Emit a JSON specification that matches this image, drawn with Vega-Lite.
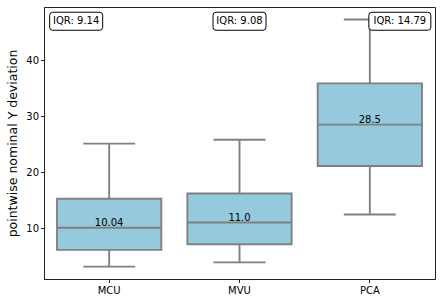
{
  "$schema": "https://vega.github.io/schema/vega-lite/v6.json",
  "width": 391,
  "height": 272,
  "autosize": {"type": "none"},
  "padding": {"left": 44, "top": 7, "right": 6, "bottom": 24},
  "config": {
    "font": "DejaVu Sans",
    "view": {"stroke": "#222222", "strokeWidth": 1},
    "axis": {
      "domainColor": "#222222",
      "tickColor": "#222222",
      "tickSize": 3.5,
      "labelFontSize": 10,
      "labelColor": "#000000",
      "labelFont": "DejaVu Sans",
      "titleFont": "DejaVu Sans",
      "titleColor": "#000000",
      "grid": false
    }
  },
  "data": {
    "values": [
      {"method": "MCU", "lower": 3.1, "q1": 6.1, "median": 10.04, "q3": 15.24, "upper": 25.1, "median_label": "10.04", "iqr_label": "IQR: 9.14"},
      {"method": "MVU", "lower": 3.85, "q1": 7.1, "median": 11.0, "q3": 16.18, "upper": 25.8, "median_label": "11.0", "iqr_label": "IQR: 9.08"},
      {"method": "PCA", "lower": 12.43, "q1": 21.1, "median": 28.5, "q3": 35.89, "upper": 47.3, "median_label": "28.5", "iqr_label": "IQR: 14.79"}
    ]
  },
  "encoding": {
    "x": {
      "field": "method",
      "type": "nominal",
      "sort": ["MCU", "MVU", "PCA"],
      "scale": {"paddingInner": 0, "paddingOuter": 0},
      "axis": {"title": null, "labelAngle": 0, "labelPadding": 3}
    }
  },
  "layer": [
    {
      "mark": {"type": "rule", "color": "#808080", "strokeWidth": 1.9},
      "encoding": {
        "y": {
          "field": "lower",
          "type": "quantitative",
          "scale": {"domain": [0.88, 49.55], "nice": false, "zero": false},
          "axis": {"values": [10, 20, 30, 40], "title": "pointwise nominal Y deviation", "titleFontSize": 12.5, "titleFontWeight": "normal", "labelPadding": 2, "titlePadding": 6}
        },
        "y2": {"field": "q1"}
      }
    },
    {
      "mark": {"type": "rule", "color": "#808080", "strokeWidth": 1.9},
      "encoding": {
        "y": {"field": "q3", "type": "quantitative"},
        "y2": {"field": "upper"}
      }
    },
    {
      "mark": {"type": "tick", "color": "#808080", "thickness": 1.9, "size": 52, "opacity": 1},
      "encoding": {"y": {"field": "lower", "type": "quantitative"}}
    },
    {
      "mark": {"type": "tick", "color": "#808080", "thickness": 1.9, "size": 52, "opacity": 1},
      "encoding": {"y": {"field": "upper", "type": "quantitative"}}
    },
    {
      "mark": {"type": "bar", "fill": "#95c9dd", "stroke": "#808080", "strokeWidth": 1.9, "width": {"band": 0.8}},
      "encoding": {
        "y": {"field": "q1", "type": "quantitative"},
        "y2": {"field": "q3"}
      }
    },
    {
      "mark": {"type": "tick", "color": "#808080", "thickness": 1.9, "size": 104, "opacity": 1},
      "encoding": {"y": {"field": "median", "type": "quantitative"}}
    },
    {
      "mark": {"type": "text", "fontSize": 10, "color": "#000000", "baseline": "middle", "dy": -4.5},
      "encoding": {
        "y": {"field": "median", "type": "quantitative"},
        "text": {"field": "median_label"}
      }
    },
    {
      "transform": [{"filter": "datum.method === 'MCU'"}],
      "mark": {"type": "point", "shape": "M-0.887,-0.34L0.887,-0.34Q1,-0.34 1,-0.227L1,0.227Q1,0.34 0.887,0.34L-0.887,0.34Q-1,0.34 -1,0.227L-1,-0.227Q-1,-0.34 -0.887,-0.34Z", "size": 2809, "filled": true, "fill": "#ffffff", "stroke": "#000000", "strokeWidth": 1, "opacity": 1, "xOffset": -33},
      "encoding": {"y": {"datum": 47.0, "type": "quantitative"}}
    },
    {
      "transform": [{"filter": "datum.method === 'MVU'"}],
      "mark": {"type": "point", "shape": "M-0.887,-0.34L0.887,-0.34Q1,-0.34 1,-0.227L1,0.227Q1,0.34 0.887,0.34L-0.887,0.34Q-1,0.34 -1,0.227L-1,-0.227Q-1,-0.34 -0.887,-0.34Z", "size": 2809, "filled": true, "fill": "#ffffff", "stroke": "#000000", "strokeWidth": 1, "opacity": 1, "xOffset": 0},
      "encoding": {"y": {"datum": 47.0, "type": "quantitative"}}
    },
    {
      "transform": [{"filter": "datum.method === 'PCA'"}],
      "mark": {"type": "point", "shape": "M-0.903,-0.29L0.903,-0.29Q1,-0.29 1,-0.193L1,0.193Q1,0.29 0.903,0.29L-0.903,0.29Q-1,0.29 -1,0.193L-1,-0.193Q-1,-0.29 -0.903,-0.29Z", "size": 3844, "filled": true, "fill": "#ffffff", "stroke": "#000000", "strokeWidth": 1, "opacity": 1, "xOffset": 30},
      "encoding": {"y": {"datum": 47.0, "type": "quantitative"}}
    },
    {
      "transform": [{"filter": "datum.method === 'MCU'"}],
      "mark": {"type": "text", "fontSize": 10, "color": "#000000", "baseline": "middle", "align": "center", "dx": -33},
      "encoding": {"y": {"datum": 47.0, "type": "quantitative"}, "text": {"field": "iqr_label"}}
    },
    {
      "transform": [{"filter": "datum.method === 'MVU'"}],
      "mark": {"type": "text", "fontSize": 10, "color": "#000000", "baseline": "middle", "align": "center", "dx": 0},
      "encoding": {"y": {"datum": 47.0, "type": "quantitative"}, "text": {"field": "iqr_label"}}
    },
    {
      "transform": [{"filter": "datum.method === 'PCA'"}],
      "mark": {"type": "text", "fontSize": 10, "color": "#000000", "baseline": "middle", "align": "center", "dx": 30},
      "encoding": {"y": {"datum": 47.0, "type": "quantitative"}, "text": {"field": "iqr_label"}}
    }
  ]
}
